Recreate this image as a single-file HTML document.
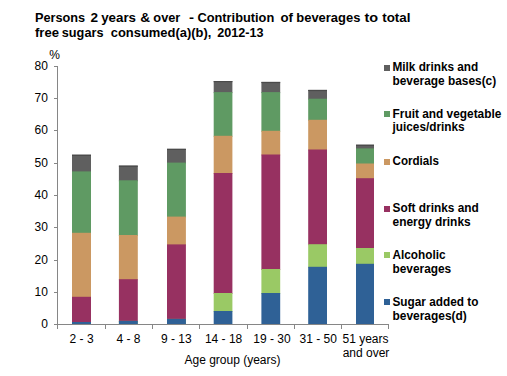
<!DOCTYPE html>
<html><head><meta charset="utf-8"><style>
html,body{margin:0;padding:0;background:#fff;}
svg{display:block;}
text{font-family:"Liberation Sans",sans-serif;fill:#000;}
</style></head><body>
<svg width="507" height="376" viewBox="0 0 507 376" >
<rect width="507" height="376" fill="#fff"/>
<rect x="72" y="154.7" width="19" height="17.7" fill="#5f5f5f"/><rect x="72" y="171.4" width="19" height="62.4" fill="#5f9a63"/><rect x="72" y="232.8" width="19" height="65.0" fill="#cb9862"/><rect x="72" y="296.8" width="19" height="26.2" fill="#973161"/><rect x="72" y="322" width="19" height="2" fill="#9ac965"/><rect x="72" y="322" width="19" height="2" fill="#2f6196"/><rect x="72" y="154.7" width="19" height="1.2" fill="#4a4a4a"/><rect x="118.9" y="165.6" width="18.9" height="15.7" fill="#5f5f5f"/><rect x="118.9" y="180.3" width="18.9" height="55.7" fill="#5f9a63"/><rect x="118.9" y="235" width="18.9" height="45.2" fill="#cb9862"/><rect x="118.9" y="279.2" width="18.9" height="42.7" fill="#973161"/><rect x="118.9" y="320.9" width="18.9" height="3.1" fill="#9ac965"/><rect x="118.9" y="320.9" width="18.9" height="3.1" fill="#2f6196"/><rect x="118.9" y="165.6" width="18.9" height="1.2" fill="#4a4a4a"/><rect x="167" y="148.8" width="18.9" height="14.8" fill="#5f5f5f"/><rect x="167" y="162.6" width="18.9" height="55.0" fill="#5f9a63"/><rect x="167" y="216.6" width="18.9" height="28.8" fill="#cb9862"/><rect x="167" y="244.4" width="18.9" height="75.5" fill="#973161"/><rect x="167" y="318.9" width="18.9" height="5.1" fill="#9ac965"/><rect x="167" y="318.9" width="18.9" height="5.1" fill="#2f6196"/><rect x="167" y="148.8" width="18.9" height="1.2" fill="#4a4a4a"/><rect x="213.7" y="81" width="18.7" height="12.1" fill="#5f5f5f"/><rect x="213.7" y="92.1" width="18.7" height="44.7" fill="#5f9a63"/><rect x="213.7" y="135.8" width="18.7" height="38.2" fill="#cb9862"/><rect x="213.7" y="173" width="18.7" height="121" fill="#973161"/><rect x="213.7" y="293" width="18.7" height="19" fill="#9ac965"/><rect x="213.7" y="311" width="18.7" height="13" fill="#2f6196"/><rect x="213.7" y="81" width="18.7" height="1.2" fill="#4a4a4a"/><rect x="261.4" y="81.9" width="18.8" height="11.2" fill="#5f5f5f"/><rect x="261.4" y="92.1" width="18.8" height="39.7" fill="#5f9a63"/><rect x="261.4" y="130.8" width="18.8" height="24.7" fill="#cb9862"/><rect x="261.4" y="154.5" width="18.8" height="115.5" fill="#973161"/><rect x="261.4" y="269" width="18.8" height="25" fill="#9ac965"/><rect x="261.4" y="293" width="18.8" height="31" fill="#2f6196"/><rect x="261.4" y="81.9" width="18.8" height="1.2" fill="#4a4a4a"/><rect x="308.2" y="89.9" width="18.8" height="9.8" fill="#5f5f5f"/><rect x="308.2" y="98.7" width="18.8" height="22.1" fill="#5f9a63"/><rect x="308.2" y="119.8" width="18.8" height="30.7" fill="#cb9862"/><rect x="308.2" y="149.5" width="18.8" height="95.7" fill="#973161"/><rect x="308.2" y="244.2" width="18.8" height="23.6" fill="#9ac965"/><rect x="308.2" y="266.8" width="18.8" height="57.2" fill="#2f6196"/><rect x="308.2" y="89.9" width="18.8" height="1.2" fill="#4a4a4a"/><rect x="356" y="144.7" width="18" height="4.7" fill="#5f5f5f"/><rect x="356" y="148.4" width="18" height="16.1" fill="#5f9a63"/><rect x="356" y="163.5" width="18" height="15.7" fill="#cb9862"/><rect x="356" y="178.2" width="18" height="70.8" fill="#973161"/><rect x="356" y="248" width="18" height="16.8" fill="#9ac965"/><rect x="356" y="263.8" width="18" height="60.2" fill="#2f6196"/><rect x="356" y="144.7" width="18" height="1.2" fill="#4a4a4a"/><rect x="384" y="65" width="6" height="6" fill="#5f5f5f"/><rect x="384" y="111" width="6" height="6" fill="#5f9a63"/><rect x="384" y="159" width="6" height="6" fill="#cb9862"/><rect x="384" y="206" width="6" height="6" fill="#973161"/><rect x="384" y="252" width="6" height="6" fill="#9ac965"/><rect x="384" y="299" width="6" height="6" fill="#2f6196"/>
<rect x="57" y="66" width="1" height="259" fill="#868686"/><rect x="54" y="324" width="4" height="1" fill="#868686"/><rect x="54" y="292" width="4" height="1" fill="#868686"/><rect x="54" y="260" width="4" height="1" fill="#868686"/><rect x="54" y="227" width="4" height="1" fill="#868686"/><rect x="54" y="195" width="4" height="1" fill="#868686"/><rect x="54" y="163" width="4" height="1" fill="#868686"/><rect x="54" y="130" width="4" height="1" fill="#868686"/><rect x="54" y="98" width="4" height="1" fill="#868686"/><rect x="54" y="66" width="4" height="1" fill="#868686"/><rect x="54" y="324" width="335" height="1" fill="#868686"/><rect x="57" y="324" width="1" height="5" fill="#868686"/><rect x="105" y="324" width="1" height="5" fill="#868686"/><rect x="152" y="324" width="1" height="5" fill="#868686"/><rect x="199" y="324" width="1" height="5" fill="#868686"/><rect x="247" y="324" width="1" height="5" fill="#868686"/><rect x="294" y="324" width="1" height="5" fill="#868686"/><rect x="341" y="324" width="1" height="5" fill="#868686"/><rect x="388" y="324" width="1" height="5" fill="#868686"/>
<text x="34.92" y="21.6" font-size="13.5" font-weight="bold" text-anchor="start" textLength="50.26" lengthAdjust="spacingAndGlyphs">Persons</text><text x="90.4" y="21.6" font-size="13.5" font-weight="bold" text-anchor="start" textLength="7.57" lengthAdjust="spacingAndGlyphs">2</text><text x="101.14" y="21.6" font-size="13.5" font-weight="bold" text-anchor="start" textLength="34.88" lengthAdjust="spacingAndGlyphs">years</text><text x="140.23" y="21.6" font-size="13.5" font-weight="bold" text-anchor="start" textLength="9.87" lengthAdjust="spacingAndGlyphs">&amp;</text><text x="153.35" y="21.6" font-size="13.5" font-weight="bold" text-anchor="start" textLength="26.98" lengthAdjust="spacingAndGlyphs">over</text><text x="189.06" y="21.6" font-size="13.5" font-weight="bold" text-anchor="start" textLength="5.03" lengthAdjust="spacingAndGlyphs">-</text><text x="197.43" y="21.6" font-size="13.5" font-weight="bold" text-anchor="start" textLength="76.83" lengthAdjust="spacingAndGlyphs">Contribution</text><text x="280.53" y="21.6" font-size="13.5" font-weight="bold" text-anchor="start" textLength="12.52" lengthAdjust="spacingAndGlyphs">of</text><text x="296.28" y="21.6" font-size="13.5" font-weight="bold" text-anchor="start" textLength="64.14" lengthAdjust="spacingAndGlyphs">beverages</text><text x="364.53" y="21.6" font-size="13.5" font-weight="bold" text-anchor="start" textLength="13.63" lengthAdjust="spacingAndGlyphs">to</text><text x="382.25" y="21.6" font-size="13.5" font-weight="bold" text-anchor="start" textLength="28.23" lengthAdjust="spacingAndGlyphs">total</text><text x="35.01" y="36.7" font-size="13.5" font-weight="bold" text-anchor="start" textLength="24.01" lengthAdjust="spacingAndGlyphs">free</text><text x="61.8" y="36.7" font-size="13.5" font-weight="bold" text-anchor="start" textLength="41.67" lengthAdjust="spacingAndGlyphs">sugars</text><text x="110.74" y="36.7" font-size="13.5" font-weight="bold" text-anchor="start" textLength="100.59" lengthAdjust="spacingAndGlyphs">consumed(a)(b),</text><text x="217.13" y="36.7" font-size="13.5" font-weight="bold" text-anchor="start" textLength="46.34" lengthAdjust="spacingAndGlyphs">2012-13</text><text x="47.9" y="328.3" font-size="12" font-weight="normal" text-anchor="end" >0</text><text x="47.9" y="296.3" font-size="12" font-weight="normal" text-anchor="end" >10</text><text x="47.9" y="264.3" font-size="12" font-weight="normal" text-anchor="end" >20</text><text x="47.9" y="231.3" font-size="12" font-weight="normal" text-anchor="end" >30</text><text x="47.9" y="199.3" font-size="12" font-weight="normal" text-anchor="end" >40</text><text x="47.9" y="167.3" font-size="12" font-weight="normal" text-anchor="end" >50</text><text x="47.9" y="134.3" font-size="12" font-weight="normal" text-anchor="end" >60</text><text x="47.9" y="102.3" font-size="12" font-weight="normal" text-anchor="end" >70</text><text x="47.9" y="70.3" font-size="12" font-weight="normal" text-anchor="end" >80</text><text x="49.3" y="59.2" font-size="12" font-weight="normal" text-anchor="start" >%</text><text x="81.6" y="342.5" font-size="12" font-weight="normal" text-anchor="middle" >2 - 3</text><text x="128.5" y="342.5" font-size="12" font-weight="normal" text-anchor="middle" >4 - 8</text><text x="176.3" y="342.5" font-size="12" font-weight="normal" text-anchor="middle" >9 - 13</text><text x="223.6" y="342.5" font-size="12" font-weight="normal" text-anchor="middle" >14 - 18</text><text x="271.9" y="342.5" font-size="12" font-weight="normal" text-anchor="middle" >19 - 30</text><text x="318.3" y="342.5" font-size="12" font-weight="normal" text-anchor="middle" >31 - 50</text><text x="365.5" y="342.5" font-size="12" font-weight="normal" text-anchor="middle" >51 years</text><text x="366" y="356.5" font-size="12" font-weight="normal" text-anchor="middle" >and over</text><text x="232.5" y="364" font-size="12" font-weight="normal" text-anchor="middle" >Age group (years)</text><text x="392.51" y="71.4" font-size="12" font-weight="bold" text-anchor="start" textLength="85.72" lengthAdjust="spacingAndGlyphs">Milk drinks and</text><text x="392.51" y="84.7" font-size="12" font-weight="bold" text-anchor="start" textLength="103.67" lengthAdjust="spacingAndGlyphs">beverage bases(c)</text><text x="392.51" y="118.1" font-size="12" font-weight="bold" text-anchor="start" textLength="108.89" lengthAdjust="spacingAndGlyphs">Fruit and vegetable</text><text x="392.5" y="131.2" font-size="12" font-weight="bold" text-anchor="start" textLength="72.17" lengthAdjust="spacingAndGlyphs">juices/drinks</text><text x="392.52" y="164.5" font-size="12" font-weight="bold" text-anchor="start" textLength="46.44" lengthAdjust="spacingAndGlyphs">Cordials</text><text x="392.51" y="212.2" font-size="12" font-weight="bold" text-anchor="start" textLength="86.21" lengthAdjust="spacingAndGlyphs">Soft drinks and</text><text x="392.5" y="225.8" font-size="12" font-weight="bold" text-anchor="start" textLength="78.15" lengthAdjust="spacingAndGlyphs">energy drinks</text><text x="392.51" y="258.7" font-size="12" font-weight="bold" text-anchor="start" textLength="53.01" lengthAdjust="spacingAndGlyphs">Alcoholic</text><text x="392.51" y="272.9" font-size="12" font-weight="bold" text-anchor="start" textLength="58.66" lengthAdjust="spacingAndGlyphs">beverages</text><text x="392.51" y="305.9" font-size="12" font-weight="bold" text-anchor="start" textLength="85.93" lengthAdjust="spacingAndGlyphs">Sugar added to</text><text x="392.5" y="319.9" font-size="12" font-weight="bold" text-anchor="start" textLength="74.25" lengthAdjust="spacingAndGlyphs">beverages(d)</text>
</svg>
</body></html>
